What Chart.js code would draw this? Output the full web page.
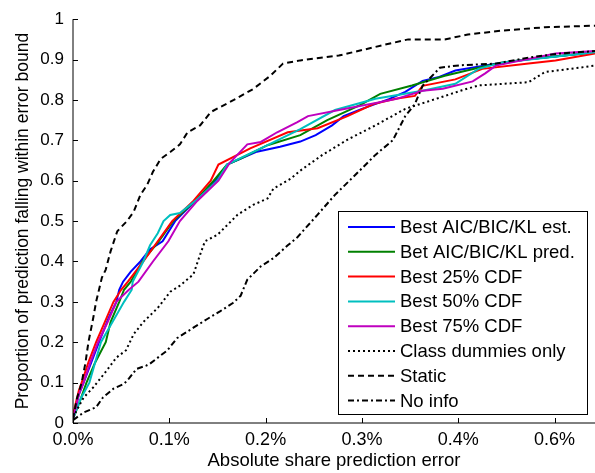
<!DOCTYPE html>
<html>
<head>
<meta charset="utf-8">
<script src="https://cdn.jsdelivr.net/npm/chart.js@4.4.0/dist/chart.umd.min.js"></script>
<style>
  html, body { margin: 0; padding: 0; background: #fff; }
</style>
</head>
<body>
<canvas id="chart" width="595" height="473"></canvas>
<script>
// x values are absolute share prediction error in percent, y values are proportions
const bestEstX = [0, 0.006, 0.011, 0.019, 0.027, 0.037, 0.045, 0.048, 0.052, 0.060, 0.070, 0.080, 0.093, 0.106, 0.127, 0.148, 0.160, 0.191, 0.215, 0.236, 0.252, 0.269, 0.281, 0.300, 0.328, 0.345, 0.363, 0.379, 0.397, 0.439, 0.473, 0.542];
const bestEstY = [0.01, 0.07, 0.10, 0.15, 0.20, 0.26, 0.30, 0.33, 0.35, 0.375, 0.40, 0.43, 0.45, 0.50, 0.55, 0.60, 0.64, 0.672, 0.684, 0.697, 0.713, 0.737, 0.76, 0.778, 0.802, 0.82, 0.847, 0.856, 0.873, 0.89, 0.901, 0.918];

const bestPredX = [0, 0.008, 0.014, 0.023, 0.034, 0.039, 0.048, 0.053, 0.060, 0.072, 0.089, 0.104, 0.127, 0.146, 0.160, 0.174, 0.202, 0.236, 0.264, 0.298, 0.319, 0.352, 0.386, 0.421, 0.446, 0.473, 0.542];
const bestPredY = [0.01, 0.06, 0.10, 0.15, 0.20, 0.25, 0.30, 0.33, 0.35, 0.40, 0.45, 0.50, 0.55, 0.60, 0.64, 0.655, 0.688, 0.713, 0.75, 0.787, 0.815, 0.836, 0.86, 0.88, 0.893, 0.901, 0.918];

const cdf25X = [0, 0.006, 0.009, 0.016, 0.024, 0.033, 0.042, 0.050, 0.057, 0.073, 0.088, 0.103, 0.125, 0.143, 0.151, 0.184, 0.223, 0.254, 0.285, 0.312, 0.335, 0.355, 0.363, 0.397, 0.425, 0.473, 0.501, 0.542];
const cdf25Y = [0.02, 0.08, 0.10, 0.15, 0.20, 0.25, 0.30, 0.33, 0.35, 0.40, 0.45, 0.50, 0.55, 0.60, 0.64, 0.68, 0.72, 0.73, 0.76, 0.79, 0.803, 0.81, 0.835, 0.851, 0.877, 0.89, 0.898, 0.915];

const cdf50X = [0, 0.008, 0.017, 0.023, 0.029, 0.041, 0.053, 0.061, 0.062, 0.073, 0.080, 0.088, 0.094, 0.101, 0.111, 0.127, 0.150, 0.160, 0.202, 0.236, 0.272, 0.314, 0.363, 0.397, 0.421, 0.446, 0.542];
const cdf50Y = [0.01, 0.06, 0.10, 0.15, 0.20, 0.25, 0.30, 0.33, 0.35, 0.40, 0.44, 0.47, 0.50, 0.515, 0.52, 0.55, 0.60, 0.64, 0.688, 0.728, 0.775, 0.803, 0.823, 0.84, 0.877, 0.893, 0.918];

const cdf75X = [0, 0.006, 0.011, 0.018, 0.026, 0.036, 0.045, 0.058, 0.068, 0.083, 0.099, 0.111, 0.129, 0.151, 0.163, 0.181, 0.195, 0.212, 0.233, 0.244, 0.283, 0.335, 0.363, 0.384, 0.415, 0.428, 0.439, 0.501, 0.542];
const cdf75Y = [0.01, 0.07, 0.10, 0.15, 0.20, 0.25, 0.30, 0.33, 0.35, 0.40, 0.45, 0.50, 0.55, 0.60, 0.645, 0.69, 0.696, 0.72, 0.745, 0.76, 0.778, 0.802, 0.823, 0.828, 0.846, 0.866, 0.885, 0.915, 0.921];

const dummiesX = [0, 0.011, 0.021, 0.035, 0.045, 0.055, 0.063, 0.073, 0.088, 0.101, 0.111, 0.125, 0.132, 0.137, 0.150, 0.171, 0.187, 0.202, 0.208, 0.226, 0.236, 0.259, 0.286, 0.314, 0.345, 0.376, 0.404, 0.421, 0.473, 0.490, 0.542];
const dummiesY = [0.014, 0.063, 0.088, 0.13, 0.162, 0.18, 0.22, 0.25, 0.285, 0.325, 0.34, 0.368, 0.417, 0.45, 0.466, 0.516, 0.54, 0.556, 0.58, 0.605, 0.625, 0.664, 0.703, 0.737, 0.778, 0.802, 0.824, 0.836, 0.844, 0.869, 0.885];

const staticX = [0, 0.004, 0.009, 0.013, 0.016, 0.021, 0.024, 0.027, 0.030, 0.034, 0.039, 0.046, 0.056, 0.063, 0.070, 0.077, 0.083, 0.091, 0.101, 0.111, 0.119, 0.132, 0.143, 0.167, 0.187, 0.205, 0.218, 0.236, 0.276, 0.324, 0.348, 0.386, 0.410, 0.446, 0.490, 0.542];
const staticY = [0.01, 0.06, 0.10, 0.15, 0.20, 0.26, 0.30, 0.33, 0.36, 0.38, 0.425, 0.475, 0.50, 0.523, 0.565, 0.59, 0.622, 0.654, 0.671, 0.69, 0.72, 0.737, 0.77, 0.80, 0.827, 0.86, 0.89, 0.898, 0.91, 0.937, 0.95, 0.95, 0.962, 0.972, 0.98, 0.984];

const noInfoX = [0, 0.011, 0.024, 0.031, 0.042, 0.053, 0.058, 0.066, 0.076, 0.080, 0.098, 0.108, 0.125, 0.139, 0.153, 0.166, 0.174, 0.181, 0.195, 0.208, 0.223, 0.233, 0.254, 0.272, 0.293, 0.314, 0.332, 0.345, 0.355, 0.363, 0.371, 0.381, 0.402, 0.439, 0.473, 0.506, 0.542];
const noInfoY = [0.007, 0.026, 0.039, 0.063, 0.085, 0.097, 0.11, 0.134, 0.142, 0.147, 0.18, 0.21, 0.236, 0.257, 0.277, 0.297, 0.315, 0.355, 0.388, 0.408, 0.44, 0.46, 0.516, 0.565, 0.614, 0.664, 0.70, 0.76, 0.79, 0.835, 0.855, 0.88, 0.886, 0.89, 0.905, 0.915, 0.921];

const xTickValues = [0, 0.1, 0.2, 0.3, 0.4, 0.5];
const xTickLabels = ['0.0%', '0.1%', '0.2%', '0.3%', '0.4%', '0.6%'];
const yTickLabels = ['0', '0.1', '0.2', '0.3', '0.4', '0.5', '0.6', '0.7', '0.8', '0.9', '1'];

const FONT = '"Liberation Sans", Arial, sans-serif';

const toPoints = (xs, ys) => xs.map((x, i) => ({ x, y: ys[i] }));

const series = [
  { label: 'Best AIC/BIC/KL est.', xs: bestEstX, ys: bestEstY, color: '#0000ff', dash: [] },
  { label: 'Bet AIC/BIC/KL pred.', xs: bestPredX, ys: bestPredY, color: '#008000', dash: [] },
  { label: 'Best 25% CDF', xs: cdf25X, ys: cdf25Y, color: '#ff0000', dash: [] },
  { label: 'Best 50% CDF', xs: cdf50X, ys: cdf50Y, color: '#00bfbf', dash: [] },
  { label: 'Best 75% CDF', xs: cdf75X, ys: cdf75Y, color: '#bf00bf', dash: [] },
  { label: 'Class dummies only', xs: dummiesX, ys: dummiesY, color: '#000000', dash: [2, 3] },
  { label: 'Static', xs: staticX, ys: staticY, color: '#000000', dash: [6, 4] },
  { label: 'No info', xs: noInfoX, ys: noInfoY, color: '#000000', dash: [6, 3, 2, 3] },
];

// MATLAB-like axes: only left and bottom lines, with ticks pointing inward
const matlabAxesPlugin = {
  id: 'matlabAxes',
  afterDraw: (chart) => {
    const { ctx, chartArea: { left, right, top, bottom }, scales: { x, y } } = chart;
    ctx.save();
    ctx.strokeStyle = '#000';
    ctx.lineWidth = 1;
    ctx.beginPath();
    ctx.moveTo(left, top);
    ctx.lineTo(left, bottom);
    ctx.lineTo(right, bottom);
    x.ticks.forEach((t) => {
      const px = Math.round(x.getPixelForValue(t.value)) + 0.5;
      ctx.moveTo(px, bottom);
      ctx.lineTo(px, bottom - 5);
    });
    y.ticks.forEach((t) => {
      const py = Math.round(y.getPixelForValue(t.value)) + 0.5;
      ctx.moveTo(left, py);
      ctx.lineTo(left + 5, py);
    });
    ctx.stroke();
    ctx.restore();
  }
};

// Boxed legend drawn inside the plot, lower right
const boxLegendPlugin = {
  id: 'boxLegend',
  afterDatasetsDraw: (chart) => {
    const { ctx } = chart;
    const bx = 338, by = 211, bw = 249, bh = 203;
    ctx.save();
    ctx.fillStyle = '#fff';
    ctx.fillRect(bx, by, bw, bh);
    ctx.strokeStyle = '#000';
    ctx.lineWidth = 1;
    ctx.strokeRect(bx + 0.5, by + 0.5, bw, bh);
    ctx.font = `18.5px ${FONT}`;
    ctx.textBaseline = 'middle';
    ctx.fillStyle = '#000';
    chart.data.datasets.forEach((ds, i) => {
      const rowY = 227 + i * 24.8;
      ctx.strokeStyle = ds.borderColor;
      ctx.lineWidth = 2;
      ctx.setLineDash(ds.borderDash);
      ctx.beginPath();
      ctx.moveTo(348, rowY);
      ctx.lineTo(395, rowY);
      ctx.stroke();
      ctx.setLineDash([]);
      ctx.fillText(ds.label, 400, rowY + 1);
    });
    ctx.restore();
  }
};

new Chart(document.getElementById('chart').getContext('2d'), {
  type: 'line',
  data: {
    datasets: series.map((s, i) => ({
      label: s.label,
      data: toPoints(s.xs, s.ys),
      borderColor: s.color,
      borderWidth: 2,
      borderDash: s.dash,
      pointRadius: 0,
      tension: 0,
      fill: false,
      order: series.length - i,
    })),
  },
  options: {
    responsive: false,
    animation: false,
    layout: { padding: { top: 17, right: 0, left: 0, bottom: 0 } },
    plugins: { legend: { display: false }, tooltip: { enabled: false } },
    scales: {
      x: {
        type: 'linear',
        min: 0,
        max: 0.542,
        grid: { display: false, drawTicks: false },
        border: { display: false },
        afterFit: (s) => { s.height = 50; },
        afterBuildTicks: (s) => { s.ticks = xTickValues.map((v) => ({ value: v })); },
        ticks: {
          color: '#000',
          padding: 6,
          maxRotation: 0,
          font: { family: FONT, size: 18 },
          callback: (v, i) => xTickLabels[i],
        },
        title: {
          display: true,
          text: 'Absolute share prediction error',
          color: '#000',
          font: { family: FONT, size: 18.5 },
          padding: { top: 0, bottom: 1 },
        },
      },
      y: {
        type: 'linear',
        min: 0,
        max: 1,
        grid: { display: false, drawTicks: false },
        border: { display: false },
        afterFit: (s) => { s.width = 73; },
        afterBuildTicks: (s) => { s.ticks = yTickLabels.map((l, i) => ({ value: i / 10 })); },
        ticks: {
          color: '#000',
          padding: 9,
          font: { family: FONT, size: 17 },
          callback: (v, i) => yTickLabels[i],
        },
        title: {
          display: true,
          text: 'Proportion of prediction falling within error bound',
          color: '#000',
          font: { family: FONT, size: 17.5 },
          padding: { top: 13, bottom: 0 },
        },
      },
    },
  },
  plugins: [matlabAxesPlugin, boxLegendPlugin],
});
</script>
</body>
</html>
